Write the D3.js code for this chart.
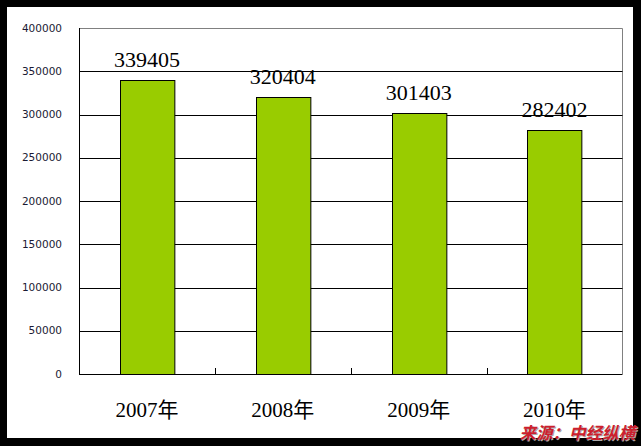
<!DOCTYPE html>
<html><head><meta charset="utf-8">
<script src="https://cdn.jsdelivr.net/npm/d3@7"></script>
<style>body{margin:0;background:#000;}svg{display:block;}</style>
</head><body>
<svg id="c" width="641" height="446"></svg>
<script>
const categories = ["2007年", "2008年", "2009年", "2010年"];
const values = [339405, 320404, 301403, 282402];
const yTicks = [0, 50000, 100000, 150000, 200000, 250000, 300000, 350000, 400000];
const sourceText = "来源：中经纵横";

const svg = d3.select("#c");
svg.append("rect").attr("x", 0).attr("y", 0).attr("width", 641).attr("height", 446).attr("fill", "#000");
svg.append("rect").attr("x", 7).attr("y", 7).attr("width", 626).attr("height", 431).attr("fill", "#fff");

const L = 79, R = 622.5, T = 28, B = 374;
const x = d3.scaleBand().domain(categories).range([L, R]).paddingInner(0.6).paddingOuter(0.3);
const xb = d3.scaleBand().domain(categories).range([L, R]);
const y = d3.scaleLinear().domain([0, 400000]).range([B, T]);

// plot area border (gray top/right)
svg.append("path").attr("d", `M${L},${T+0.5}H${R}V${B}`).attr("fill", "none").attr("stroke", "#808080").attr("stroke-width", 1);

// gridlines
svg.append("g").selectAll("line").data(yTicks.filter(d => d > 0 && d < 400000)).join("line")
  .attr("x1", L).attr("x2", R).attr("y1", d => Math.round(y(d)) + 0.5).attr("y2", d => Math.round(y(d)) + 0.5)
  .attr("stroke", "#000").attr("stroke-width", 1);

// bars
svg.append("g").selectAll("rect").data(values).join("rect")
  .attr("x", (d, i) => Math.round(x(categories[i])) + 0.5)
  .attr("y", d => Math.round(y(d)) + 0.5)
  .attr("width", x.bandwidth())
  .attr("height", d => B - Math.round(y(d)))
  .attr("fill", "#99CC00").attr("stroke", "#000").attr("stroke-width", 1);

// axes
svg.append("line").attr("x1", L + 0.5).attr("x2", L + 0.5).attr("y1", T).attr("y2", B + 0.5).attr("stroke", "#000");
svg.append("line").attr("x1", L).attr("x2", R).attr("y1", B + 0.5).attr("y2", B + 0.5).attr("stroke", "#000");
// category tick marks
svg.append("g").selectAll("line").data(categories.slice(1)).join("line")
  .attr("x1", d => Math.round(xb(d)) + 0.5).attr("x2", d => Math.round(xb(d)) + 0.5)
  .attr("y1", B - 6).attr("y2", B).attr("stroke", "#000");

// y tick labels
svg.append("g").selectAll("text").data(yTicks).join("text")
  .attr("x", 62).attr("y", d => y(d)).attr("dy", "0.35em").attr("text-anchor", "end")
  .attr("font-family", "'DejaVu Sans', sans-serif").attr("font-size", 10.5).attr("fill", "#1a1a33")
  .text(d => d);

// value labels
svg.append("g").selectAll("text").data(values).join("text")
  .attr("x", (d, i) => x(categories[i]) + x.bandwidth() / 2)
  .attr("y", d => y(d) - 13)
  .attr("text-anchor", "middle")
  .attr("font-family", "'Liberation Serif', 'DejaVu Serif', serif").attr("font-size", 22).attr("fill", "#000")
  .text(d => d);

// category labels
svg.append("g").selectAll("text").data(categories).join("text")
  .attr("x", d => xb(d) + xb.bandwidth() / 2)
  .attr("y", 417)
  .attr("text-anchor", "middle")
  .attr("font-family", "'Liberation Serif', 'Noto Sans CJK SC', serif").attr("font-size", 21).attr("fill", "#000")
  .text(d => d);

// source
const src = svg.append("g");
src.append("text").attr("x", 635).attr("y", 439).attr("text-anchor", "end")
  .attr("font-family", "'Noto Sans CJK SC', sans-serif").attr("font-size", 16.5).attr("font-weight", "bold")
  .attr("font-style", "italic").attr("fill", "#aaa").attr("transform", "translate(1,1)").text(sourceText);
src.append("text").attr("x", 635).attr("y", 439).attr("text-anchor", "end")
  .attr("font-family", "'Noto Sans CJK SC', sans-serif").attr("font-size", 16.5).attr("font-weight", "bold")
  .attr("font-style", "italic").attr("fill", "#CC1F2E").text(sourceText);
</script>
</body></html>
